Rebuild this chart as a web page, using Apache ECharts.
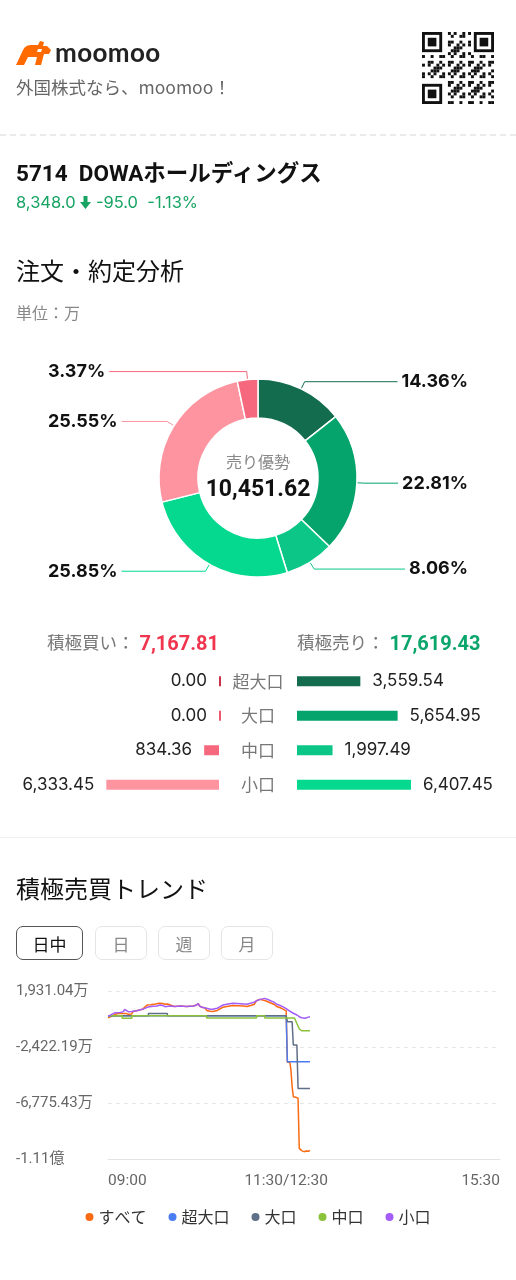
<!DOCTYPE html>
<html><head><meta charset="utf-8">
<script src="https://cdn.jsdelivr.net/npm/echarts@6/dist/echarts.min.js"></script>
<style>
html,body{margin:0;padding:0;background:#fff;}
body{width:516px;height:1280px;position:relative;overflow:hidden;font-family:Roboto,'Noto Sans CJK JP',sans-serif;}
#chart{position:absolute;left:0;top:0;width:516px;height:1280px;}
.t{position:absolute;white-space:nowrap;line-height:1;}
.btn{position:absolute;top:926px;height:34px;box-sizing:border-box;border:1px solid #e4e5e9;border-radius:7px;font-size:17px;color:#888;display:flex;align-items:center;justify-content:center;font-family:'Noto Sans CJK JP',sans-serif;}
</style></head><body>
<div id="chart"></div>

<svg class="t" style="left:16px;top:41px" width="35" height="24" viewBox="0 0 35 24">
  <path fill="#ff6a00" d="M0 24 L7 9 C9 5 12 4 16 4 L22 4 L24 0 L28 1 L27 5 L31 5 L35 9 L33 13 L28 13 L25 24 L19 24 L21 16 L12 16 L8 24 Z"/>
  <path fill="#fff" d="M22 8 L26 8 L25 11 L21 11 Z"/>
</svg>
<div class="t" style="left:55px;top:39px;font-size:26px;font-weight:700;color:#222;font-family:Lato,Roboto,sans-serif;letter-spacing:0.4px">moomoo</div>
<div class="t" style="left:16px;top:78px;font-size:17.5px;color:#666;font-family:'Noto Sans CJK JP',sans-serif">外国株式なら、moomoo！</div>
<svg id="qr" class="t" style="left:422px;top:32px" width="72" height="72" viewBox="0 0 25 25"></svg>
<div class="t" style="left:0;top:134px;width:516px;border-top:2px dashed #ebebeb"></div>

<div class="t" style="left:16px;top:162px;font-size:22.5px;font-weight:700;color:#111">5714&nbsp; DOWAホールディングス</div>
<div class="t" style="left:16px;top:194px;font-size:16.5px;color:#17a463;font-family:Inter,Roboto,sans-serif">8,348.0 <svg width="11" height="13" viewBox="0 0 11 13" style="vertical-align:-1px"><path fill="#17a463" d="M3.5 0 H7.5 V6 H11 L5.5 13 L0 6 H3.5 Z"/></svg> -95.0&nbsp; -1.13%</div>

<div class="t" style="left:16px;top:258px;font-size:24px;color:#111;font-family:'Noto Sans CJK JP',sans-serif">注文・約定分析</div>
<div class="t" style="left:16px;top:304px;font-size:16px;color:#888;font-family:'Noto Sans CJK JP',sans-serif">単位：万</div>

<div class="t" id="buyTot" style="right:297px;top:633px;font-size:17.5px;color:#777"></div>
<div class="t" id="sellTot" style="left:297px;top:633px;font-size:17.5px;color:#777"></div>

<div class="t" style="left:0;top:837px;width:516px;border-top:1px solid #f0f0f0"></div>
<div class="t" style="left:16px;top:876px;font-size:24px;color:#111;font-family:'Noto Sans CJK JP',sans-serif">積極売買トレンド</div>
<div class="btn" style="left:16px;width:67px;border-color:#555;color:#111">日中</div>
<div class="btn" style="left:95px;width:52px">日</div>
<div class="btn" style="left:158px;width:52px">週</div>
<div class="btn" style="left:221px;width:52px">月</div>

<script>
// ---------- data ----------
const sizeCats = ['超大口', '大口', '中口', '小口'];
const buyValues = [0.00, 0.00, 834.36, 6333.45];
const sellValues = [3559.54, 5654.95, 1997.49, 6407.45];
const centerTitle = '売り優勢';

const trendNames = ['すべて', '超大口', '大口', '中口', '小口'];
const xTickValues = [0, 150, 330];
const xTickLabels = ['09:00', '11:30/12:30', '15:30'];
const yTickValues = [1931.04, -2422.19, -6775.43, -11128.67];

// session minutes (09:00 = 0, 11:30/12:30 = 150, 15:30 = 330), values in 万
const allT = [0,2,4,6,10,12,13,15,17,20,21,24,29,31,33,36,40,43,44,46,48,50,51,56,61,66,72,74,76,77,79,82,83,86,88,92,94,97,100,105,109,114,117,120,123,124,125,128,132,135,136,140,142,145,147,150,151,153,154,155,156,158,160,161,163,165,167,169,170];
const allV = [-150,-80,0,120,200,180,140,190,130,150,330,400,506,680,843,860,920,972,980,960,900,920,765,730,765,720,765,820,950,780,660,600,420,350,336,420,530,673,730,800,790,760,730,800,880,1000,1177,1280,1188,1080,980,880,730,630,541,390,-3600,-3560,-4200,-5500,-6286,-6330,-6400,-10300,-10480,-10560,-10500,-10520,-10451.62];

const superT = [0,150,151,170];
const superV = [0,0,-3559.54,-3559.54];

const largeT = [0,34,34,50,50,150,151,155,156,159,160,170];
const largeV = [0,0,190,190,0,0,-455,-455,-2267,-2267,-5654.95,-5654.95];

const midT = [0,12,12,20,20,83,83,125,125,132,132,157,159,161,163,170];
const midV = [0,0,-190,-190,0,0,-170,-170,0,0,-170,-170,-600,-1000,-1163.13,-1163.13];

const smallT = [0,2,3,6,10,13,14,15,17,20,24,29,33,35,38,41,44,46,48,52,56,61,66,72,74,76,77,79,83,86,88,92,94,97,100,105,109,114,117,120,123,125,128,132,135,136,140,142,145,147,150,152,153,156,159,161,163,166,168,170];
const smallV = [-20,50,200,244,250,330,506,380,322,330,400,506,662,711,740,765,843,800,711,765,730,765,720,765,820,950,780,660,586,520,506,590,700,843,900,972,960,930,900,972,1050,1177,1280,1358,1250,1150,1050,900,800,711,560,420,322,200,65,-67,-150,-190,-120,-74];

// ---------- styles ----------
const FONT = "Roboto,'Noto Sans CJK JP',sans-serif";
const NUMFONT = "Inter,Roboto,sans-serif";
const buyColors = ['#c8304c', '#ec5870', '#f6687d', '#fd94a0'];
const sellColors = ['#146c4f', '#04a46c', '#0cc687', '#05d98f'];
const lineColors = ['#fa6a12', '#4a7cf3', '#5f6f87', '#8ac23a', '#a35cf7'];

const fmt = v => Number(v).toLocaleString('en-US', {minimumFractionDigits: 2, maximumFractionDigits: 2});
const trunc2 = v => Math.trunc(v * 100 + (v < 0 ? -1e-6 : 1e-6)) / 100;
const sum = a => a.reduce((s, v) => s + v, 0);
const buyTotal = sum(buyValues), sellTotal = sum(sellValues);

document.getElementById('buyTot').innerHTML = '積極買い：<span style="font-size:20px;font-weight:700;color:#f0364f;vertical-align:-1px"> ' + fmt(buyTotal) + '</span>';
document.getElementById('sellTot').innerHTML = '積極売り：<span style="font-size:20px;font-weight:700;color:#0aa56b;vertical-align:-1px"> ' + fmt(sellTotal) + '</span>';

// QR-like decoration
(function(){
  const svg = document.getElementById('qr'); let s = '';
  const finder = (x, y) => { s += `<rect x="${x}" y="${y}" width="7" height="7" fill="#111"/><rect x="${x+1}" y="${y+1}" width="5" height="5" fill="#fff"/><rect x="${x+2}" y="${y+2}" width="3" height="3" fill="#111"/>`; };
  for (let r = 0; r < 25; r++) for (let c = 0; c < 25; c++) {
    const inF = (r < 8 && c < 8) || (r < 8 && c > 16) || (r > 16 && c < 8);
    if (inF) continue;
    if (((r * 37 + c * 11 + r * c * 5) % 7) < 3) s += `<rect x="${c}" y="${r}" width="1.02" height="1.02" fill="#111"/>`;
  }
  finder(0,0); finder(18,0); finder(0,18);
  svg.innerHTML = s;
})();

// ---------- pie data ----------
const pieData = [];
sellValues.forEach((v, i) => { if (v > 0) pieData.push({name: '売' + sizeCats[i], value: v, itemStyle: {color: sellColors[i]}}); });
for (let i = buyValues.length - 1; i >= 0; i--) { if (buyValues[i] > 0) pieData.push({name: '買' + sizeCats[i], value: buyValues[i], itemStyle: {color: buyColors[i]}}); }

const barMax = Math.max(...buyValues, ...sellValues);
const yMin = yTickValues[yTickValues.length - 1], yMax = yTickValues[0];

const pair = (T, V) => T.map((t, i) => [t, V[i]]);
const lineData = [pair(allT, allV), pair(superT, superV), pair(largeT, largeV), pair(midT, midV), pair(smallT, smallV)];

const chart = echarts.init(document.getElementById('chart'), null, {renderer: 'canvas'});
chart.setOption({
  animation: false,
  textStyle: {fontFamily: FONT},
  graphic: [
    {type: 'text', x: 258, y: 462, style: {text: centerTitle, fill: '#888', font: "16px 'Noto Sans CJK JP'", textAlign: 'center', textVerticalAlign: 'middle'}},
    {type: 'text', x: 258, y: 490, style: {text: fmt(sellTotal - buyTotal), fill: '#111', font: "bold 23px " + FONT, textAlign: 'center', textVerticalAlign: 'middle'}}
  ],
  legend: {
    data: trendNames, top: 1209, left: 'center', icon: 'circle', itemWidth: 8, itemHeight: 8, itemGap: 22, padding: 0,
    textStyle: {fontSize: 16, color: '#333', fontFamily: "'Noto Sans CJK JP',sans-serif"}
  },
  grid: [
    {left: 219 - 114, width: 114, top: 664, height: 138},
    {left: 297, width: 114, top: 664, height: 138},
    {left: 108, right: 16, top: 991, height: 168}
  ],
  xAxis: [
    {gridIndex: 0, type: 'value', inverse: true, min: 0, max: barMax, show: false},
    {gridIndex: 1, type: 'value', min: 0, max: barMax, show: false},
    {gridIndex: 2, type: 'value', min: 0, max: 330, interval: 30,
     axisLine: {onZero: false, lineStyle: {color: '#e3e3e3'}}, axisTick: {show: false}, splitLine: {show: false},
     axisLabel: {color: '#666', fontSize: 15.5, margin: 14, alignMinLabel: 'left', alignMaxLabel: 'right',
       formatter: v => { const k = xTickValues.indexOf(Math.round(v)); return k >= 0 ? xTickLabels[k] : ''; }}}
  ],
  yAxis: [
    {gridIndex: 0, type: 'category', data: sizeCats, inverse: true, show: false},
    {gridIndex: 1, type: 'category', data: sizeCats, inverse: true, axisLine: {show: false}, axisTick: {show: false},
     axisLabel: {margin: 39, align: 'center', color: '#777', fontSize: 17, fontFamily: "'Noto Sans CJK JP',sans-serif"}},
    {gridIndex: 2, type: 'value', min: yMin, max: yMax, interval: (yMax - yMin) / 3,
     axisLine: {show: false}, axisTick: {show: false},
     splitLine: {lineStyle: {type: [4, 4], color: '#e6e6e6'}},
     axisLabel: {align: 'left', margin: 92, color: '#666', fontSize: 15,
       formatter: v => Math.abs(v) >= 10000 ? (v / 10000).toFixed(2) + '億' : fmt(trunc2(v)) + '万'}}
  ],
  series: [
    {type: 'pie', center: [258, 478], radius: [60, 99], startAngle: 90, clockwise: true, silent: true,
     data: pieData, itemStyle: {borderColor: '#fff', borderWidth: 1.5},
     label: {formatter: '{d}%', fontSize: 18, fontWeight: 'bold', fontFamily: NUMFONT, color: '#111', alignTo: 'edge', edgeDistance: 48, distanceToLabelLine: 4},
     labelLine: {length: 8, length2: 10, lineStyle: {width: 1}}},
    {type: 'bar', xAxisIndex: 0, yAxisIndex: 0, data: buyValues, barWidth: 10, barMinHeight: 2, clip: false, silent: true,
     itemStyle: {color: p => buyColors[p.dataIndex]},
     label: {show: true, position: 'left', distance: 12, color: '#222', fontSize: 17, fontFamily: NUMFONT, formatter: p => fmt(p.value)}},
    {type: 'bar', xAxisIndex: 1, yAxisIndex: 1, data: sellValues, barWidth: 10, barMinHeight: 2, clip: false, silent: true,
     itemStyle: {color: p => sellColors[p.dataIndex]},
     label: {show: true, position: 'right', distance: 12, color: '#222', fontSize: 17, fontFamily: NUMFONT, formatter: p => fmt(p.value)}},
    ...trendNames.map((n, i) => ({
      name: n, type: 'line', xAxisIndex: 2, yAxisIndex: 2, data: lineData[i], showSymbol: false, symbol: 'circle',
      color: lineColors[i], lineStyle: {width: 1.5, color: lineColors[i]}, silent: true
    }))
  ]
});
</script>
</body></html>
